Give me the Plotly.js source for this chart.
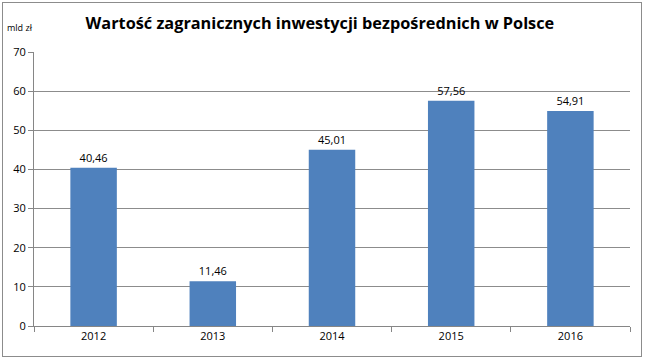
<!DOCTYPE html>
<html><head><meta charset="utf-8">
<script src="https://cdn.plot.ly/plotly-3.0.1.min.js"></script>
<style>
html,body{margin:0;padding:0;background:#fff;}
#wrap{position:relative;width:645px;height:360px;}
#chart{width:645px;height:360px;}
#frame{position:absolute;left:2px;top:2px;width:638px;height:353px;border:1px solid #8c8c8c;pointer-events:none;}
</style></head>
<body>
<div id="wrap"><div id="chart"></div><div id="frame"></div></div>
<script>
const years = ['2012','2013','2014','2015','2016'];
const values = [40.46, 11.46, 45.01, 57.56, 54.91];
const yTicks = [0,10,20,30,40,50,60,70];

const trace = {
  type: 'bar',
  x: years,
  y: values,
  marker: {color: '#4f81bd'},
  texttemplate: '%{y:.2f}',
  textposition: 'outside',
  textfont: {family: 'Open Sans, sans-serif', size: 11, color: '#000'},
  cliponaxis: false,
  hoverinfo: 'none'
};

const layout = {
  width: 645, height: 360,
  margin: {l: 34, r: 15, t: 52, b: 34},
  paper_bgcolor: '#fff', plot_bgcolor: '#fff',
  separators: ', ',
  bargap: 0.61,
  showlegend: false,
  title: {
    text: '<b>Wartość zagranicznych inwestycji bezpośrednich w Polsce</b>',
    x: 0.496, xanchor: 'center', y: 0.935, yanchor: 'middle',
    font: {family: 'Open Sans, sans-serif', size: 16.3, color: '#000'}
  },
  xaxis: {
    type: 'category',
    showline: true, linecolor: '#868686', linewidth: 1,
    ticks: 'outside', tickson: 'boundaries', ticklen: 5, tickcolor: '#868686',
    tickfont: {family: 'Open Sans, sans-serif', size: 11, color: '#000'},
    showgrid: false, zeroline: false
  },
  yaxis: {
    range: [0, 70],
    tickvals: yTicks,
    showline: true, linecolor: '#868686', linewidth: 1,
    ticks: 'outside', ticklen: 5, tickcolor: '#868686',
    showgrid: true, gridcolor: '#8c8c8c', gridwidth: 1,
    zeroline: false,
    tickfont: {family: 'Open Sans, sans-serif', size: 11, color: '#000'}
  },
  annotations: [{
    text: 'mld zł', xref: 'paper', yref: 'paper',
    x: -0.023, y: 1.088, xanchor: 'center', yanchor: 'middle',
    showarrow: false,
    font: {family: 'Open Sans, sans-serif', size: 9, color: '#000'}
  }]
};

Plotly.newPlot('chart', [trace], layout, {displayModeBar: false, staticPlot: true});
</script>
</body></html>
